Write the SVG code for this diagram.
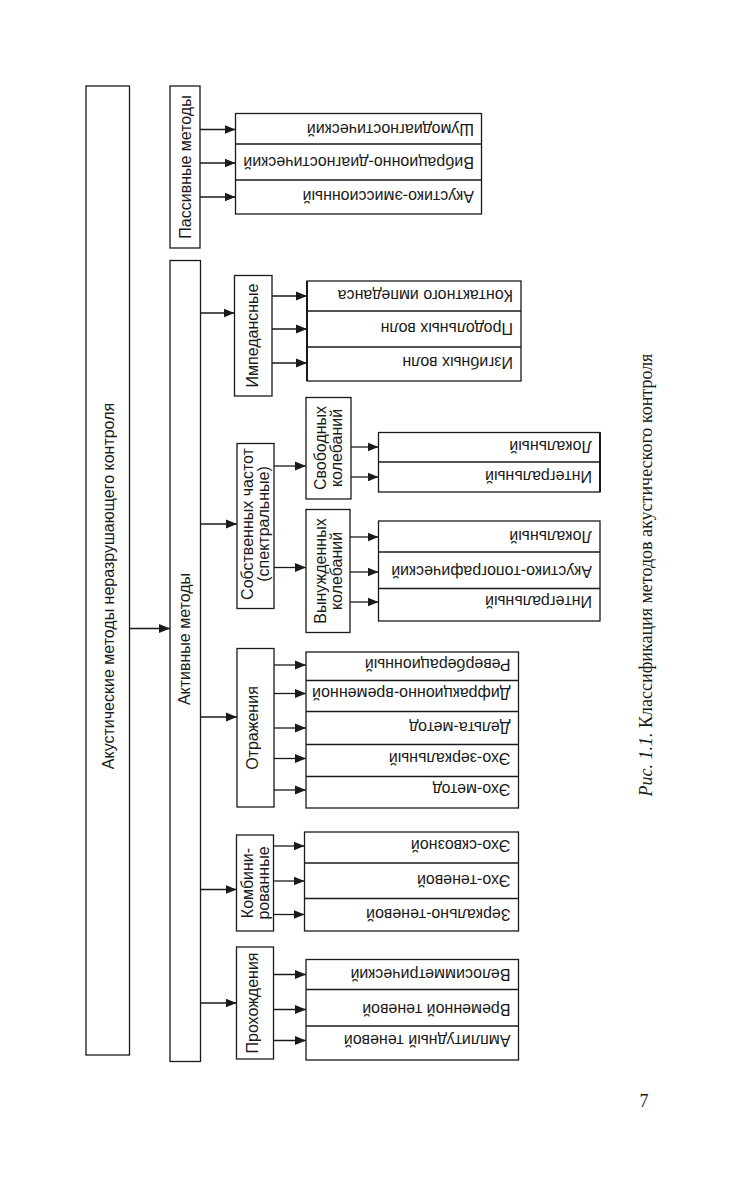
<svg xmlns="http://www.w3.org/2000/svg" width="756" height="1182" viewBox="0 0 756 1182">
<defs>
<style>
.box{fill:#fff;stroke:#1a1a1a;stroke-width:1.3}
.div{stroke:#1a1a1a;stroke-width:1.3}
.t{font-family:"Liberation Sans",Arial,sans-serif;font-size:16px;fill:#1a1a1a}
.v{text-anchor:middle}
.conn line{stroke:#1a1a1a;stroke-width:1.3;marker-end:url(#ah)}
.cap{font-family:"Liberation Serif","Times New Roman",serif;font-size:18px;fill:#1a1a1a}
</style>
<marker id="ah" markerUnits="userSpaceOnUse" markerWidth="12" markerHeight="10" refX="11" refY="5" orient="auto"><path d="M0,0.5 L11,5 L0,9.5 z" fill="#1a1a1a"/></marker>
</defs>
<rect width="756" height="1182" fill="#fff"/>

<g id="main">
<rect class="box" x="86" y="86" width="43.5" height="969"/>
<text class="t v" transform="translate(113.5,586) rotate(-90)">Акустические методы неразрушающего контроля</text>
</g>

<g id="passive">
<rect class="box" x="170" y="86" width="30" height="162"/>
<text class="t v" transform="translate(191,167) rotate(-90)">Пассивные методы</text>
</g>

<g id="passive-leaves">
<rect class="box" x="235.5" y="113.5" width="246" height="100.5"/>
<line class="div" x1="235.5" y1="144" x2="481.5" y2="144"/>
<line class="div" x1="235.5" y1="180" x2="481.5" y2="180"/>
<text class="t" transform="translate(474,123.8) rotate(180)">Шумодиагностический</text>
<text class="t" transform="translate(474,157.3) rotate(180)">Вибрационно-диагностический</text>
<text class="t" transform="translate(474,191.3) rotate(180)">Акустико-эмиссионный</text>
</g>

<g id="active">
<rect class="box" x="170" y="260.5" width="30.5" height="801"/>
<text class="t v" transform="translate(190,639) rotate(-90)">Активные методы</text>
</g>

<g id="impedance">
<rect class="box" x="234.5" y="275.5" width="37.5" height="120.5"/>
<text class="t v" transform="translate(257.5,335.5) rotate(-90)">Импедансные</text>
</g>
<g id="impedance-leaves">
<rect class="box" x="307" y="281" width="214" height="100"/>
<line x1="307" y1="281" x2="307" y2="381" stroke="#1a1a1a" stroke-width="2"/>
<line class="div" x1="307" y1="311" x2="521" y2="311"/>
<line class="div" x1="307" y1="347" x2="521" y2="347"/>
<text class="t" transform="translate(513,290.3) rotate(180)">Контактного импеданса</text>
<text class="t" transform="translate(513,323.3) rotate(180)">Продольных волн</text>
<text class="t" transform="translate(513,357.3) rotate(180)">Изгибных волн</text>
</g>

<g id="natural-freq">
<rect class="box" x="237" y="443.5" width="37" height="165"/>
<text class="t v" transform="translate(252.5,524) rotate(-90)">Собственных частот</text>
<text class="t v" transform="translate(268.5,524) rotate(-90)">(спектральные)</text>
</g>

<g id="free-osc">
<rect class="box" x="306" y="397.5" width="45" height="101.5"/>
<text class="t v" transform="translate(326,448) rotate(-90)">Свободных</text>
<text class="t v" transform="translate(342,448) rotate(-90)">колебаний</text>
</g>
<g id="free-osc-leaves">
<rect class="box" x="378.5" y="432.5" width="221.5" height="59.5"/>
<line x1="600" y1="432.5" x2="600" y2="492" stroke="#1a1a1a" stroke-width="2"/>
<line class="div" x1="378.5" y1="462" x2="600" y2="462"/>
<text class="t" transform="translate(592,441.3) rotate(180)">Локальный</text>
<text class="t" transform="translate(592,471.3) rotate(180)">Интегральный</text>
</g>

<g id="forced-osc">
<rect class="box" x="306" y="509.5" width="44" height="123"/>
<text class="t v" transform="translate(326,571) rotate(-90)">Вынужденных</text>
<text class="t v" transform="translate(342,571) rotate(-90)">колебаний</text>
</g>
<g id="forced-osc-leaves">
<rect class="box" x="378.5" y="521" width="221.5" height="100"/>
<line class="div" x1="378.5" y1="552" x2="600" y2="552"/>
<line class="div" x1="378.5" y1="588.5" x2="600" y2="588.5"/>
<text class="t" transform="translate(592,531.3) rotate(180)">Локальный</text>
<text class="t" transform="translate(592,566.3) rotate(180)">Акустико-топографический</text>
<text class="t" transform="translate(592,596.3) rotate(180)">Интегральный</text>
</g>

<g id="reflection">
<rect class="box" x="237" y="648.5" width="37" height="158.5"/>
<text class="t v" transform="translate(258,728) rotate(-90)">Отражения</text>
</g>
<g id="reflection-leaves">
<rect class="box" x="306" y="652" width="212.5" height="156"/>
<line class="div" x1="306" y1="680.5" x2="518.5" y2="680.5"/>
<line class="div" x1="306" y1="711.5" x2="518.5" y2="711.5"/>
<line class="div" x1="306" y1="744.5" x2="518.5" y2="744.5"/>
<line class="div" x1="306" y1="776.5" x2="518.5" y2="776.5"/>
<text class="t" transform="translate(510.5,659.3) rotate(180)">Реверберационный</text>
<text class="t" transform="translate(510.5,687.8) rotate(180)">Дифракционно-временной</text>
<text class="t" transform="translate(510.5,722.3) rotate(180)">Дельта-метод</text>
<text class="t" transform="translate(510.5,752.8) rotate(180)">Эхо-зеркальный</text>
<text class="t" transform="translate(510.5,784.3) rotate(180)">Эхо-метод</text>
</g>

<g id="combined">
<rect class="box" x="236.5" y="835" width="37" height="96"/>
<text class="t v" transform="translate(252.5,883) rotate(-90)">Комбини-</text>
<text class="t v" transform="translate(268.5,883) rotate(-90)">рованные</text>
</g>
<g id="combined-leaves">
<rect class="box" x="304.5" y="832" width="214" height="99"/>
<line class="div" x1="304.5" y1="863" x2="518.5" y2="863"/>
<line class="div" x1="304.5" y1="898.5" x2="518.5" y2="898.5"/>
<text class="t" transform="translate(510.5,840.3) rotate(180)">Эхо-сквозной</text>
<text class="t" transform="translate(510.5,875.3) rotate(180)">Эхо-теневой</text>
<text class="t" transform="translate(510.5,908.8) rotate(180)">Зеркально-теневой</text>
</g>

<g id="transmission">
<rect class="box" x="236.5" y="947" width="37" height="112"/>
<text class="t v" transform="translate(257.5,1003) rotate(-90)">Прохождения</text>
</g>
<g id="transmission-leaves">
<rect class="box" x="306" y="959.5" width="212.5" height="100.5"/>
<line class="div" x1="306" y1="989.5" x2="518.5" y2="989.5"/>
<line class="div" x1="306" y1="1026" x2="518.5" y2="1026"/>
<text class="t" transform="translate(510.5,968.8) rotate(180)">Велосимметрический</text>
<text class="t" transform="translate(510.5,1003.8) rotate(180)">Временной теневой</text>
<text class="t" transform="translate(510.5,1034.8) rotate(180)">Амплитудный теневой</text>
</g>

<g id="connectors" class="conn">
<line x1="129.5" y1="628.5" x2="170" y2="628.5"/>
<line x1="200" y1="129.5" x2="235.5" y2="129.5"/>
<line x1="200" y1="163" x2="235.5" y2="163"/>
<line x1="200" y1="197" x2="235.5" y2="197"/>
<line x1="200.5" y1="313" x2="234.5" y2="313"/>
<line x1="272" y1="296" x2="307" y2="296"/>
<line x1="272" y1="329" x2="307" y2="329"/>
<line x1="272" y1="363" x2="307" y2="363"/>
<line x1="200.5" y1="524" x2="237" y2="524"/>
<line x1="274" y1="466" x2="306" y2="466"/>
<line x1="274" y1="567.5" x2="306" y2="567.5"/>
<line x1="351" y1="447" x2="378.5" y2="447"/>
<line x1="351" y1="477" x2="378.5" y2="477"/>
<line x1="350" y1="537" x2="378.5" y2="537"/>
<line x1="350" y1="572" x2="378.5" y2="572"/>
<line x1="350" y1="602" x2="378.5" y2="602"/>
<line x1="200.5" y1="717" x2="237" y2="717"/>
<line x1="274" y1="665" x2="306" y2="665"/>
<line x1="274" y1="693.5" x2="306" y2="693.5"/>
<line x1="274" y1="728" x2="306" y2="728"/>
<line x1="274" y1="758.5" x2="306" y2="758.5"/>
<line x1="274" y1="790" x2="306" y2="790"/>
<line x1="200.5" y1="889.5" x2="236.5" y2="889.5"/>
<line x1="273.5" y1="846" x2="304.5" y2="846"/>
<line x1="273.5" y1="881" x2="304.5" y2="881"/>
<line x1="273.5" y1="914.5" x2="304.5" y2="914.5"/>
<line x1="200.5" y1="1003" x2="236.5" y2="1003"/>
<line x1="273.5" y1="974.5" x2="306" y2="974.5"/>
<line x1="273.5" y1="1009.5" x2="306" y2="1009.5"/>
<line x1="273.5" y1="1040.5" x2="306" y2="1040.5"/>
</g>

<text class="cap" text-anchor="middle" transform="translate(652,575) rotate(-90)"><tspan font-style="italic">Рис. 1.1.</tspan> Классификация методов акустического контроля</text>
<text class="cap" font-size="20" text-anchor="middle" x="644" y="1107">7</text>
</svg>
